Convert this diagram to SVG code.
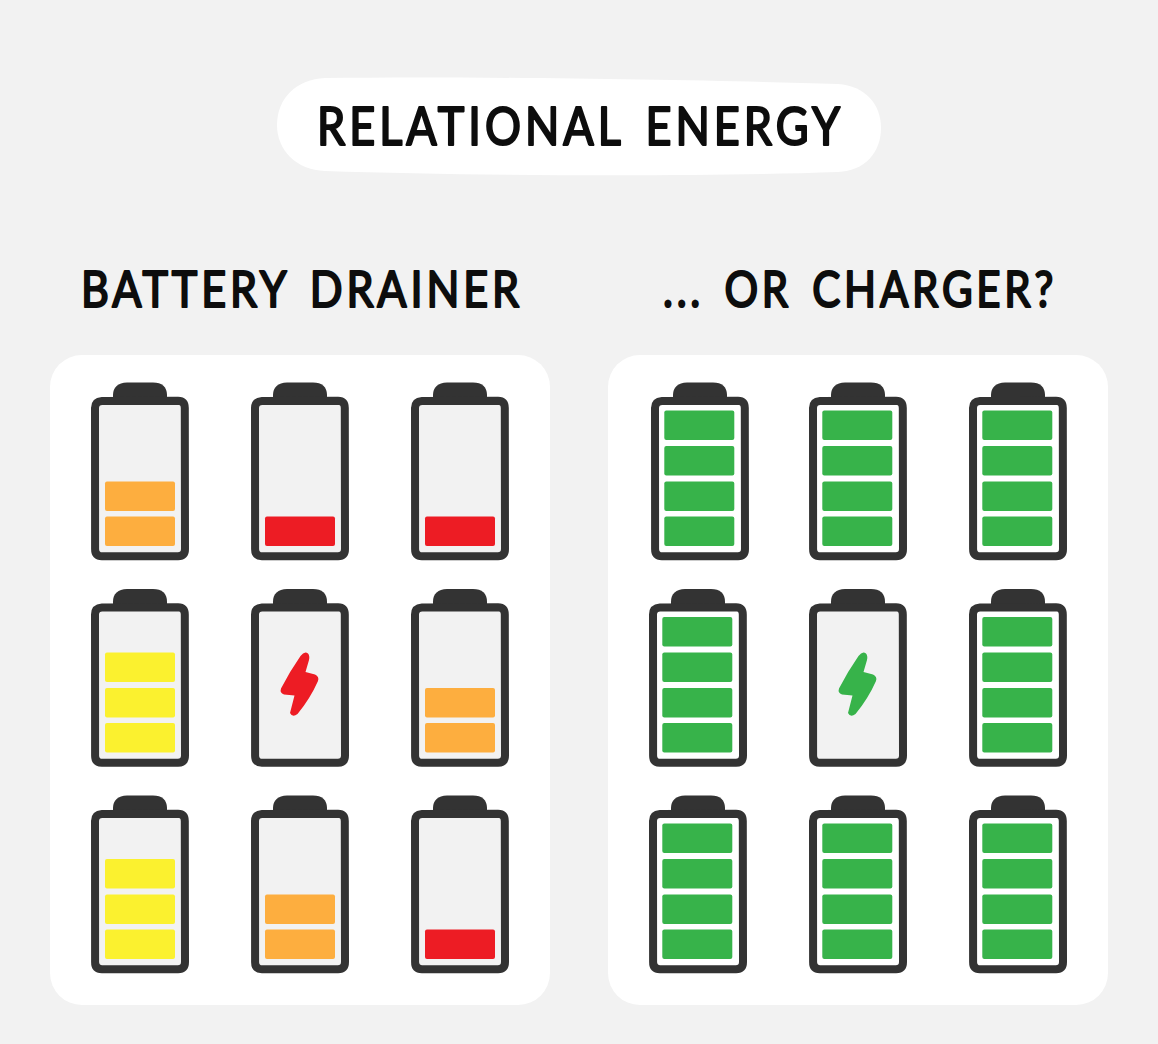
<svg xmlns="http://www.w3.org/2000/svg" width="1158" height="1044" viewBox="0 0 1158 1044">
<style>
.panel{fill:#fff}
.t{font-family:"Lato","Liberation Sans",sans-serif;fill:#0d0d0d;stroke:#0d0d0d;stroke-width:2.2;stroke-linejoin:round;letter-spacing:.09em;word-spacing:.14em}
.gray{fill:#f2f2f2}
.white{fill:#fff}
.orange{fill:#fdae3f}
.red{fill:#ed1c24}
.yellow{fill:#fbf12f}
.green{fill:#37b34a}
.shift{transform:translateX(-.7px)}
</style>
<defs>
<g id="shell">
<path d="M113 402V395C113 387 118 383 127 382.500L153 382.500C162 382.500 167 387 167 395V402Z" fill="#333"/>
<path d="M102 401L178 400.800Q184.800 401 184.800 408L185 549Q185 556 178 556.300H102Q95 556 95.100 549L95 408Q95 401.500 102 401Z" fill="inherit" stroke="#333" stroke-width="8" stroke-linejoin="round"/>
</g>
<rect id="bar" x="105" width="70" height="29.500" rx="2"/>
<g id="four"><use href="#bar" y="410.500"/><use href="#bar" y="446"/><use href="#bar" y="481.500"/><use href="#bar" y="516.500"/></g>
<path id="bolt" d="M300.500 656Q304.500 650.500 308 653.500Q310 656 309 660L305.500 672L315 674.500Q319.500 676.500 318 681Q310 699 297.500 714Q292.500 718 290 713L294.500 695.500L284 694.500Q279.500 693 281 688.500Q290 671 300.500 656Z"/>
</defs>
<rect width="1158" height="1044" fill="#f2f2f2"/>
<g id="title">
<path class="panel" d="M325 78C480 76 700 80 838 84C865 86 881 104 881 128C881 152 865 171 838 172C700 177 480 176 325 171C296 170 277 150 277 125C277 98 297 79 325 78Z"/>
<text class="t" x="317" y="145" font-size="53" textLength="527" lengthAdjust="spacingAndGlyphs">RELATIONAL ENERGY</text>
</g>
<g id="heading-drainer"><text class="t" x="81" y="307" font-size="51" textLength="442" lengthAdjust="spacingAndGlyphs">BATTERY DRAINER</text></g>
<g id="heading-charger"><text class="t" x="663" y="307" font-size="51" textLength="394" lengthAdjust="spacingAndGlyphs">... OR CHARGER?</text></g>
<rect id="panel-drainer" class="panel" x="50" y="355" width="500" height="650" rx="32"/>
<rect id="panel-charger" class="panel" x="608" y="355" width="500" height="650" rx="32"/>

<g id="d11" class="gray"><use href="#shell"/><g class="orange"><use href="#bar" y="481.500"/><use href="#bar" y="516.500"/></g></g>
<g id="d12" class="gray" transform="translate(160 0)"><use href="#shell"/><g class="red"><use href="#bar" y="516.500"/></g></g>
<g id="d13" class="gray" transform="translate(320 0)"><use href="#shell"/><g class="red"><use href="#bar" y="516.500"/></g></g>
<g id="d21" class="gray" transform="translate(0 206.500)"><use href="#shell"/><g class="yellow"><use href="#bar" y="446"/><use href="#bar" y="481.500"/><use href="#bar" y="516.500"/></g></g>
<g id="d22" class="gray" transform="translate(160 206.500)"><use href="#shell"/></g>
<use id="bolt-red" href="#bolt" fill="#ed1c24"/>
<g id="d23" class="gray" transform="translate(320 206.500)"><use href="#shell"/><g class="orange"><use href="#bar" y="481.500"/><use href="#bar" y="516.500"/></g></g>
<g id="d31" class="gray" transform="translate(0 413)"><use href="#shell"/><g class="yellow"><use href="#bar" y="446"/><use href="#bar" y="481.500"/><use href="#bar" y="516.500"/></g></g>
<g id="d32" class="gray" transform="translate(160 413)"><use href="#shell"/><g class="orange"><use href="#bar" y="481.500"/><use href="#bar" y="516.500"/></g></g>
<g id="d33" class="gray" transform="translate(320 413)"><use href="#shell"/><g class="red"><use href="#bar" y="516.500"/></g></g>

<g id="c11" class="white" transform="translate(560 0)"><use href="#shell"/><use href="#four" class="green shift"/></g>
<g id="c12" class="white" transform="translate(718 0)"><use href="#shell"/><use href="#four" class="green shift"/></g>
<g id="c13" class="white" transform="translate(878 0)"><use href="#shell"/><use href="#four" class="green shift"/></g>
<g id="c21" class="white" transform="translate(558 206.500)"><use href="#shell"/><use href="#four" class="green shift"/></g>
<g id="c22" class="gray" transform="translate(718 206.500)"><use href="#shell"/></g>
<use id="bolt-green" href="#bolt" x="558" fill="#37b34a"/>
<g id="c23" class="white" transform="translate(878 206.500)"><use href="#shell"/><use href="#four" class="green shift"/></g>
<g id="c31" class="white" transform="translate(558 413)"><use href="#shell"/><use href="#four" class="green shift"/></g>
<g id="c32" class="white" transform="translate(718 413)"><use href="#shell"/><use href="#four" class="green shift"/></g>
<g id="c33" class="white" transform="translate(878 413)"><use href="#shell"/><use href="#four" class="green shift"/></g>
</svg>
